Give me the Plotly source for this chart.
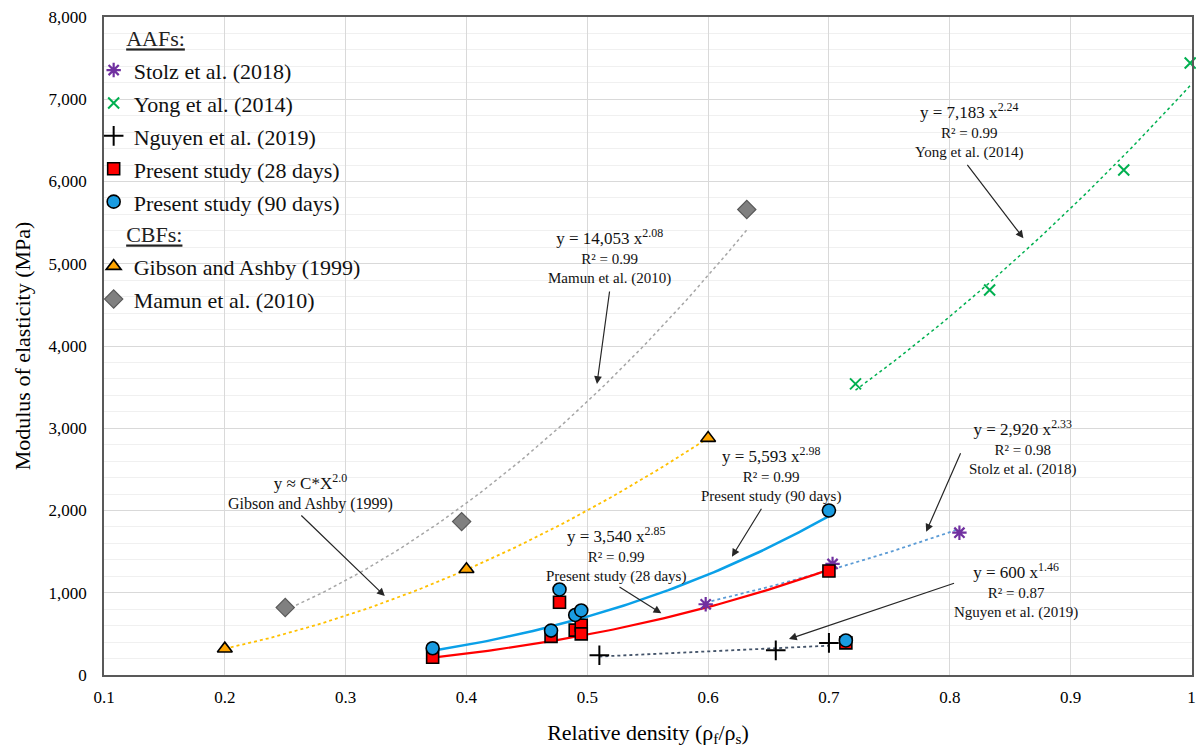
import numpy as np
import plotly.graph_objects as go

FONT = "Liberation Serif, Times New Roman, serif"

# ---- measured data: relative density vs. modulus of elasticity (MPa) ----
stolz_x = [0.598, 0.703, 0.808]
stolz_y = [860, 1350, 1730]

yong_x = [0.722, 0.833, 0.944, 0.999]
yong_y = [3540, 4680, 6140, 7440]

nguyen_x = [0.510, 0.656, 0.700]
nguyen_y = [240, 300, 390]

p28_x = [0.372, 0.470, 0.477, 0.490, 0.495, 0.495, 0.700, 0.714]
p28_y = [215, 470, 885, 545, 605, 500, 1265, 390]

p90_x = [0.372, 0.470, 0.477, 0.490, 0.495, 0.700, 0.714]
p90_y = [325, 540, 1040, 730, 785, 2000, 420]

gibson_x = [0.2, 0.4, 0.6]
gibson_y = [320, 1285, 2880]

mamun_x = [0.25, 0.396, 0.632]
mamun_y = [820, 1865, 5660]

# ---- power-law fits y = a * x^b (coefficient, exponent) ----
fit_p28 = (3540, 2.85)
fit_p90 = (5593, 2.98)
fit_stolz = (2920, 2.33)
fit_yong = (7183, 2.24)
fit_nguyen = (600, 1.46)
fit_mamun = (14053, 2.08)
fit_gibson = (8000, 2.0)   # C * X^2.0

x_ticks = [0.1, 0.2, 0.3, 0.4, 0.5, 0.6, 0.7, 0.8, 0.9, 1.0]
x_tick_text = ["0.1", "0.2", "0.3", "0.4", "0.5", "0.6", "0.7", "0.8", "0.9", "1"]


def power_curve(fit, xs):
    a, b = fit
    xx = np.linspace(min(xs), max(xs), 80)
    return xx, a * xx ** b


fig = go.Figure()

# trend lines (drawn first so markers sit on top)
trend_specs = [
    (fit_mamun, mamun_x, dict(color="#A6A6A6", width=1.5, dash="dot")),
    (fit_gibson, gibson_x, dict(color="#FFC000", width=1.8, dash="dot")),
    (fit_yong, yong_x, dict(color="#00B050", width=1.5, dash="dot")),
    (fit_stolz, stolz_x, dict(color="#5B9BD5", width=1.8, dash="dot")),
    (fit_nguyen, nguyen_x, dict(color="#44546A", width=1.8, dash="dot")),
    (fit_p90, p90_x[:-1], dict(color="#0AA0E8", width=2.5)),
    (fit_p28, p28_x[:-1], dict(color="#FF0000", width=2.2)),
]
for fit, xs, line in trend_specs:
    tx, ty = power_curve(fit, xs)
    fig.add_trace(go.Scatter(x=tx, y=ty, mode="lines", line=line,
                             showlegend=False, hoverinfo="skip"))

PAD = "\u00a0" * 5
aaf = dict(legendgroup="aaf", legendgrouptitle=dict(
    text=PAD + "<u>AAFs:</u>", font=dict(family=FONT, size=22, color="#222")))
cbf = dict(legendgroup="cbf", legendgrouptitle=dict(
    text=PAD + "<u>CBFs:</u>", font=dict(family=FONT, size=22, color="#222")))


def entry(name):
    return f"<span style='font-size:22px'>{name}</span>"


fig.add_trace(go.Scatter(
    x=stolz_x, y=stolz_y, mode="markers", name=entry("Stolz et al. (2018)"),
    marker=dict(symbol="asterisk-open", size=12, color="#7030A0",
                line=dict(color="#7030A0", width=2.2)), **aaf))
fig.add_trace(go.Scatter(
    x=yong_x, y=yong_y, mode="markers", name=entry("Yong et al. (2014)"),
    marker=dict(symbol="x-thin-open", size=11, color="#00B050",
                line=dict(color="#00B050", width=2)), cliponaxis=False, **aaf))
fig.add_trace(go.Scatter(
    x=nguyen_x, y=nguyen_y, mode="markers", name=entry("Nguyen et al. (2019)"),
    marker=dict(symbol="cross-thin-open", size=14, color="#000000",
                line=dict(color="#000000", width=2)), **aaf))
fig.add_trace(go.Scatter(
    x=p28_x, y=p28_y, mode="markers", name=entry("Present study (28 days)"),
    marker=dict(symbol="square", size=12, color="#FF0000",
                line=dict(color="#000000", width=1.6)), **aaf))
fig.add_trace(go.Scatter(
    x=p90_x, y=p90_y, mode="markers", name=entry("Present study (90 days)"),
    marker=dict(symbol="circle", size=13, color="#1A9BE0",
                line=dict(color="#000000", width=1.6)), **aaf))
fig.add_trace(go.Scatter(
    x=gibson_x, y=gibson_y, mode="markers", name=entry("Gibson and Ashby (1999)"),
    marker=dict(symbol="triangle-up", size=13, color="#FFA500",
                line=dict(color="#000000", width=1.6)), **cbf))
fig.add_trace(go.Scatter(
    x=mamun_x, y=mamun_y, mode="markers", name=entry("Mamun et al. (2010)"),
    marker=dict(symbol="diamond", size=14, color="#808080",
                line=dict(color="#595959", width=1.2)), **cbf))


def fit_label(fit):
    a, b = fit
    return f"y = {a:,} x<sup>{b:.2f}</sup>"


def eq_block(fit, r2, source):
    return (f"<span style='font-size:17px'>{fit_label(fit)}</span><br>"
            f"R² = {r2}<br>{source}")


labels = [
    (0.5186, 5094, eq_block(fit_mamun, "0.99", "Mamun et al. (2010)")),
    (0.8163, 6618, eq_block(fit_yong, "0.99", "Yong et al. (2014)")),
    (0.6523, 2432, eq_block(fit_p90, "0.99", "Present study (90 days)")),
    (0.5241, 1467, eq_block(fit_p28, "0.99", "Present study (28 days)")),
    (0.8602, 2764, eq_block(fit_stolz, "0.98", "Stolz et al. (2018)")),
    (0.8550, 1025, eq_block(fit_nguyen, "0.87", "Nguyen et al. (2019)")),
    (0.2712, 2231, "<span style='font-size:17px'>y ≈ C*X<sup>2.0</sup></span><br>"
                   "<span style='font-size:16px'>Gibson and Ashby (1999)</span>"),
]
annotations = []
for lx, ly, txt in labels:
    annotations.append(dict(x=lx, y=ly, xref="x", yref="y", text=txt,
                            showarrow=False, align="center",
                            xanchor="center", yanchor="middle",
                            font=dict(family=FONT, size=15, color="#111")))

# leader arrows: (tip_x, tip_y, tail_x, tail_y)
arrows = [
    (0.508, 3538, 0.5186, 4681),
    (0.3324, 960, 0.2621, 1957),
    (0.861, 5309, 0.8136, 6221),
    (0.6197, 1438, 0.6449, 2039),
    (0.5613, 750, 0.5254, 1082),
    (0.7805, 1742, 0.8095, 2715),
    (0.6669, 438, 0.8048, 1122),
]
for tx, ty, sx, sy in arrows:
    annotations.append(dict(x=tx, y=ty, ax=sx, ay=sy, xref="x", yref="y",
                            axref="x", ayref="y", text="", showarrow=True,
                            arrowhead=2, arrowsize=1.3, arrowwidth=1.2,
                            arrowcolor="#262626", standoff=0))

fig.update_layout(
    width=1196, height=749,
    margin=dict(l=104, r=4, t=17, b=74),
    paper_bgcolor="white", plot_bgcolor="white",
    font=dict(family=FONT, size=17, color="#000"),
    showlegend=True,
    legend=dict(x=-0.0095, y=1.0, xanchor="left", yanchor="top",
                bgcolor="rgba(255,255,255,0)", borderwidth=0,
                font=dict(family=FONT, size=23, color="#111"),
                tracegroupgap=0, itemwidth=30, traceorder="grouped"),
    annotations=annotations,
)
fig.update_xaxes(
    range=[0.1, 1.0005], tickvals=x_ticks, ticktext=x_tick_text,
    showgrid=True, gridcolor="#D9D9D9", gridwidth=1,
    showline=True, linecolor="#595959", linewidth=2, mirror=True,
    zeroline=False, ticks="", ticklabelstandoff=6,
    ticklabeloverflow="allow",
    tickfont=dict(family=FONT, size=17),
    title=dict(text="Relative density (ρ<sub>f</sub>/ρ<sub>s</sub>)",
               font=dict(family=FONT, size=22), standoff=18),
    automargin=False,
)
fig.update_yaxes(
    range=[0, 8000], dtick=1000, tickformat=",",
    showgrid=True, gridcolor="#D9D9D9", gridwidth=1,
    minor=dict(dtick=200, showgrid=True, gridcolor="#F0F0F0", gridwidth=1),
    showline=True, linecolor="#595959", linewidth=1.5, mirror=True,
    zeroline=False, ticks="", ticklabelstandoff=12,
    tickfont=dict(family=FONT, size=17),
    title=dict(text="Modulus of elasticity (MPa)",
               font=dict(family=FONT, size=22), standoff=12),
    automargin=False,
)

fig.write_html("out.html")
